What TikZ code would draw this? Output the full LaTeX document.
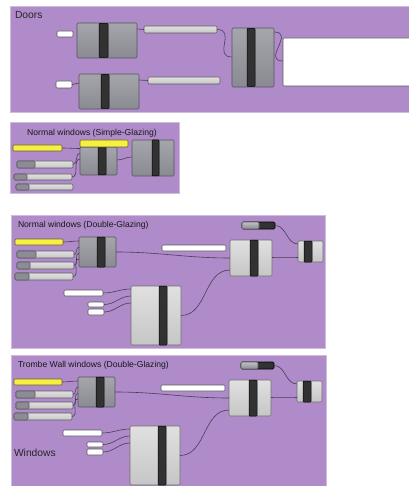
\documentclass[tikz,border=0pt]{standalone}
\usepackage{fontspec}
\setmainfont{Liberation Sans}
\definecolor{panelc}{RGB}{175,139,201}
\definecolor{panelb}{RGB}{205,188,218}
\definecolor{gtop}{RGB}{165,165,172}
\definecolor{gbot}{RGB}{138,138,146}
\definecolor{gborder}{RGB}{85,85,92}
\definecolor{ltop}{RGB}{224,224,224}
\definecolor{lbot}{RGB}{198,198,198}
\definecolor{lborder}{RGB}{110,110,110}
\definecolor{darkc}{RGB}{50,50,50}
\definecolor{wborder}{RGB}{90,90,95}
\definecolor{yellowc}{RGB}{247,240,60}
\definecolor{yborder}{RGB}{100,95,60}
\definecolor{slight}{RGB}{215,215,215}
\definecolor{sdark}{RGB}{140,140,148}
\definecolor{wirec}{RGB}{75,60,85}
\newcommand\rbox[6]{\node[#6, minimum width={(#4)-(#2)}, minimum height={(#5)-(#3)}] (#1) at (#2,#3) {};}
% contents of a double-glazing group (absolute coords of the third group)
\newcommand\dgcontent[1]{%
  \rbox{#1S}{242}{222}{275}{229}{knobdark}
  \rbox{#1Sk}{242}{222}{259}{229}{knobgray}
  \rbox{#1B}{298}{241}{323}{262}{lbox}
  \rbox{#1Bb}{304}{241}{312}{262}{dbar}
  \rbox{#1L}{230}{240}{272}{276}{lbox}
  \rbox{#1Lb}{250}{240}{258}{276}{dbar}
  \rbox{#1W}{162}{245}{226}{251}{wbar}
  \rbox{#1Y}{15}{239}{63}{245}{ybar}
  \rbox{#1G}{79}{237}{116}{267}{gbox}
  \rbox{#1Gb}{97}{237}{105}{267}{dbar}
  \rbox{#1s1}{17}{251}{74}{258}{sbar}
  \rbox{#1s1k}{17}{251}{36}{258}{sknob}
  \rbox{#1s2}{17}{262}{74}{269}{sbar}
  \rbox{#1s2k}{17}{262}{30}{269}{sknob}
  \rbox{#1s3}{15}{273}{73}{280}{sbar}
  \rbox{#1s3k}{15}{273}{29}{280}{sknob}
  \rbox{#1BB}{131}{286}{181}{345}{lbox}
  \rbox{#1BBb}{159}{286}{167}{345}{dbar}
  \rbox{#1w1}{64}{290}{103}{296}{wbar}
  \rbox{#1w2}{88}{302}{104}{307}{wbar}
  \rbox{#1w3}{88}{309}{104}{315}{wbar}
  \draw[wire] (#1Y.east) to[out=0,in=180] ([yshift=-4pt]#1G.north west);
  \draw[wire] (#1s1.east) to[out=0,in=180] ([yshift=-10pt]#1G.north west);
  \draw[wire] (#1s2.east) to[out=0,in=180] ([yshift=-16pt]#1G.north west);
  \draw[wire] (#1s3.east) to[out=0,in=180] ([yshift=-22pt]#1G.north west);
  \draw[wire] (#1G.east) to[out=0,in=180] ([yshift=-18pt]#1L.north west);
  \draw[wire] (#1BB.east) to[out=0,in=180] ([yshift=-30pt]#1L.north west);
  \draw[wire] ([yshift=-17pt]#1L.north east) to[out=0,in=180] ([yshift=-16pt]#1B.north west);
  \draw[wire] (#1S.east) to[out=0,in=180] ([yshift=-3pt]#1B.north west);
  \draw[wire] (#1w1.east) to[out=0,in=180] ([yshift=-3pt]#1BB.north west);
  \draw[wire] (#1w2.east) to[out=0,in=180] ([yshift=-10pt]#1BB.north west);
  \draw[wire] (#1w3.east) to[out=0,in=180] ([yshift=-17pt]#1BB.north west);
}
\begin{document}
\begin{tikzpicture}[x=1pt,y=-1pt,
  every node/.style={inner sep=0pt, outer sep=0pt},
  box/.style={anchor=north west, rectangle},
  panel/.style={box, fill=panelc, draw=panelb, line width=0.6pt},
  gbox/.style={box, draw=gborder, line width=0.6pt, rounded corners=1.2pt, top color=gtop, bottom color=gbot},
  lbox/.style={box, draw=lborder, line width=0.6pt, rounded corners=1.2pt, top color=ltop, bottom color=lbot},
  dbar/.style={box, draw=black, fill=darkc, line width=0.5pt, rounded corners=0.8pt},
  wbar/.style={box, draw=wborder, fill=white, line width=0.6pt, rounded corners=1.2pt},
  ybar/.style={box, draw=yborder, fill=yellowc, line width=0.6pt, rounded corners=1pt},
  sbar/.style={box, draw=wborder, top color=ltop, bottom color=lbot, line width=0.6pt, rounded corners=1.2pt},
  sknob/.style={box, draw=wborder, fill=sdark, line width=0.6pt, rounded corners=1.2pt},
  knobdark/.style={box, draw=black, fill=darkc, line width=0.6pt, rounded corners=1.2pt},
  knobgray/.style={box, draw=wborder, top color=gtop!70!white, bottom color=gbot, line width=0.6pt, rounded corners=1.2pt},
  wire/.style={draw=wirec, line width=0.6pt},
  gtitle/.style={anchor=base west, font=\fontsize{8.6}{10}\selectfont, text=black!90},
  blabel/.style={anchor=base west, font=\fontsize{10.3}{12}\selectfont, text=black!85},
]
\useasboundingbox (0,0) rectangle (408,486);
\fill[white] (0,0) rectangle (408,486);

% ---------- Doors ----------
\rbox{p1}{10}{6}{412}{112}{panel}
\node[blabel] (doors) at (15,19) {Doors};
\rbox{sw1}{57}{31}{73}{37}{wbar}
\rbox{gb1}{77}{23}{137}{58}{gbox}
\rbox{gb1b}{99}{23.5}{108}{57.5}{dbar}
\rbox{b1}{144}{26}{217}{33}{sbar}
\rbox{sw2}{56}{81}{72}{88}{wbar}
\rbox{gb2}{79}{74}{139}{109}{gbox}
\rbox{gb2b}{101}{74.5}{109}{108.5}{dbar}
\rbox{b2}{148}{77}{220}{84}{sbar}
\rbox{gb3}{232}{28}{274}{87}{gbox}
\rbox{gb3b}{247}{28.5}{255}{86.5}{dbar}
\rbox{wbig}{283}{38}{412}{86}{wbar}
\draw[wire] ([yshift=-6pt]gb1.north east) -- (b1.west);
\draw[wire] (sw2.east) to[out=0,in=180] ([yshift=-9pt]gb2.north west);
\draw[wire] ([yshift=-6pt]gb2.north east) -- (b2.west);
\draw[wire] (b1.east) to[out=0,in=180,looseness=1.6] ([yshift=-29pt]gb3.north west);
\draw[wire] ([yshift=-4pt]gb3.north east) to[out=0,in=180,looseness=1.8] ([yshift=-23pt]wbig.north west);

% ---------- Normal windows (Simple-Glazing) ----------
\rbox{p2}{10}{122}{179}{193}{panel}
\node[gtitle, anchor=base] (t2) at (92,136) {Normal windows (Simple-Glazing)};
\rbox{y1}{13}{145}{62}{151}{ybar}
\rbox{g2}{80}{147}{117}{175}{gbox}
\rbox{g2b}{98}{147}{106}{175}{dbar}
\rbox{yh}{80}{140}{128}{147}{ybar}
\rbox{g3}{132}{140}{174}{176}{gbox}
\rbox{g3b}{152}{140}{159}{176}{dbar}
\rbox{t1}{17}{161}{73}{168}{sbar}
\rbox{t1k}{17}{161}{35}{168}{sknob}
\rbox{t2s}{14}{174}{72}{180}{sbar}
\rbox{t2k}{14}{174}{27}{180}{sknob}
\rbox{t3}{16}{184}{73}{190}{sbar}
\rbox{t3k}{16}{184}{29}{190}{sknob}
\draw[wire] (y1.east) to[out=0,in=180] ([yshift=-1.5pt]g2.north west);
\draw[wire] (t1.east) to[out=0,in=180] ([yshift=-6pt]g2.north west);
\draw[wire] (t2s.east) to[out=0,in=180] ([yshift=-12pt]g2.north west);
\draw[wire] ([yshift=-13pt]g2.north east) to[out=0,in=180] ([yshift=-17pt]g3.north west);

% ---------- Normal windows (Double-Glazing) ----------
\rbox{p3}{11}{215}{325}{348}{panel}
\node[gtitle] (t3title) at (18,227) {Normal windows (Double-Glazing)};
\dgcontent{a}

% ---------- Trombe Wall windows (Double-Glazing) ----------
\rbox{p4}{11}{355}{326}{490}{panel}
\node[gtitle] (t4title) at (18,367) {Trombe Wall windows (Double-Glazing)};
\node[blabel] (win) at (14,456.5) {Windows};
\begin{scope}[shift={(-1,140)}]
\dgcontent{b}
\end{scope}
\end{tikzpicture}
\end{document}
